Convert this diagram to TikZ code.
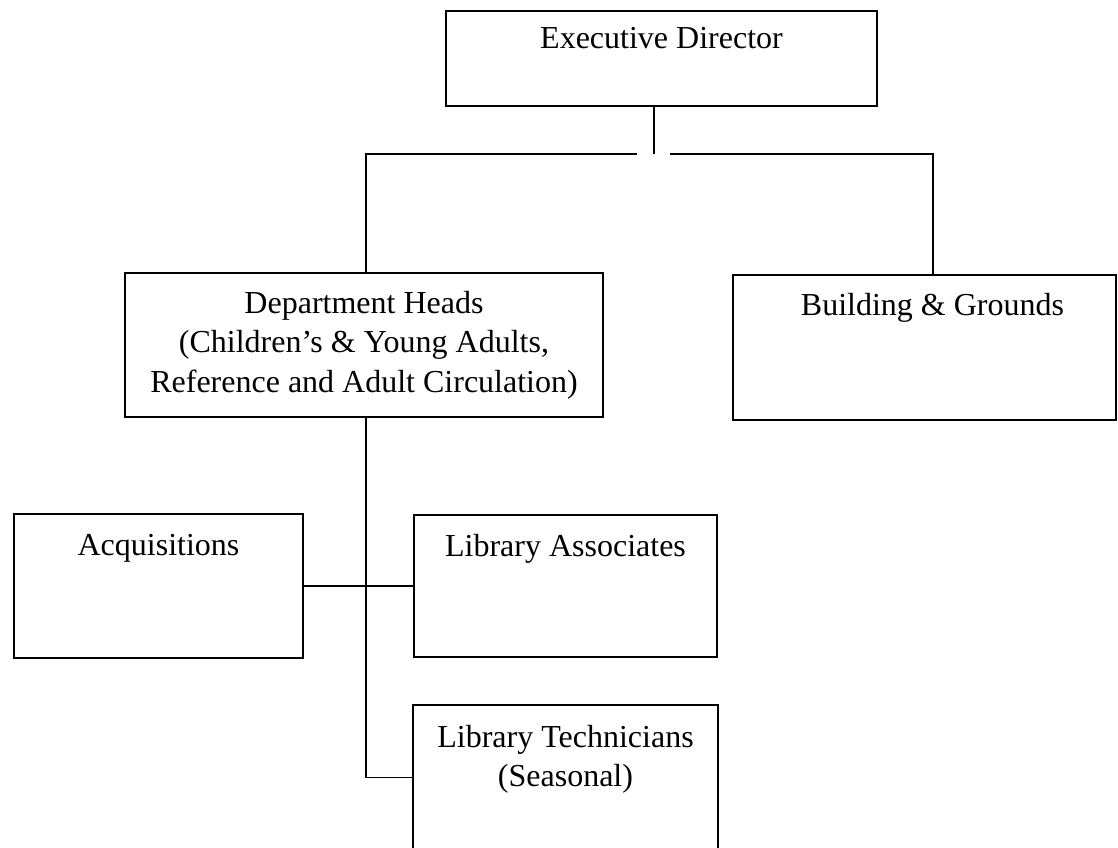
\documentclass[tikz,border=0pt]{standalone}
\usepackage{fontspec}
\setmainfont{Liberation Serif}
\newdimen\pxu \pxu=0.75pt
\begin{document}
\begin{tikzpicture}[x=0.75pt,y=-0.75pt,
  box/.style={draw=black, line width=1.1pt, rectangle, inner sep=0pt, outer sep=0pt, anchor=north west},
  lbl/.style={anchor=north, inner sep=0pt, align=center, font=\fontsize{24}{29.5}\selectfont},
  conn/.style={draw=black, line width=0.8pt}]
\useasboundingbox (0,0) rectangle (1118,848);
\node[box, minimum width=431\pxu, minimum height=95\pxu,
  label={[lbl,yshift=-16\pxu]north:Executive Director}] (ed) at (446,11) {};
\node[box, minimum width=478\pxu, minimum height=144\pxu,
  label={[lbl,yshift=-18\pxu]north:{Department Heads\\(Children’s \& Young Adults,\\Reference and Adult Circulation)}}] (dh) at (125,273) {};
\node[box, minimum width=383\pxu, minimum height=145\pxu,
  label={[lbl,yshift=-18\pxu,xshift=8\pxu]north:{Building \& Grounds}}] (bg) at (733,275) {};
\node[box, minimum width=289\pxu, minimum height=144\pxu,
  label={[lbl,yshift=-20\pxu]north:Acquisitions}] (acq) at (14,514) {};
\node[box, minimum width=303\pxu, minimum height=142\pxu,
  label={[lbl,yshift=-19\pxu]north:Library Associates}] (la) at (414,515) {};
\node[box, minimum width=305\pxu, minimum height=145\pxu,
  label={[lbl,yshift=-20\pxu]north:{Library Technicians\\(Seasonal)}}] (lt) at (413,705) {};
\coordinate (edj) at (654,154);
\coordinate (gl) at (637,154);
\coordinate (gr) at (670,154);
\coordinate (dhj) at (366,154);
\coordinate (bgj) at (933,154);
\draw[conn] (edj |- ed.south) -- (edj);
\draw[conn] (dhj |- dh.north) -- (dhj) -- (gl);
\draw[conn] (bgj |- bg.north) -- (bgj) -- (gr);
\draw[conn] (dhj |- dh.south) -- (dhj |- lt.west) -- (lt.west);
\draw[conn] (acq.east) -- (la.west);
\end{tikzpicture}
\end{document}
